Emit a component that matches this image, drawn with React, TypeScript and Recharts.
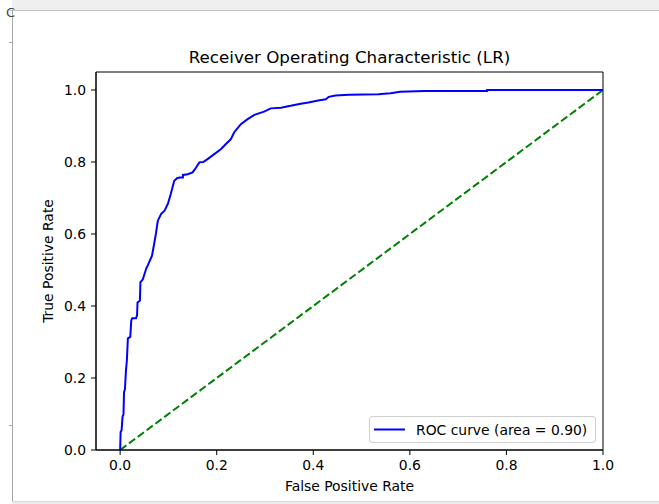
import React from "react";
import {
  LineChart,
  Line,
  XAxis,
  YAxis,
  Legend,
  ReferenceArea,
  Label,
} from "recharts";

const rocFpr = [
  0, 0.001, 0.003, 0.005, 0.007, 0.008, 0.01, 0.012, 0.014, 0.016, 0.021,
  0.023, 0.025, 0.033, 0.035, 0.036, 0.041, 0.042, 0.047, 0.054, 0.057, 0.066,
  0.071, 0.074, 0.078, 0.085, 0.092, 0.099, 0.105, 0.112, 0.118, 0.123, 0.13,
  0.13, 0.14, 0.15, 0.155, 0.164, 0.172, 0.181, 0.195, 0.209, 0.219, 0.229,
  0.236, 0.25, 0.264, 0.278, 0.298, 0.312, 0.333, 0.353, 0.374, 0.39, 0.41,
  0.426, 0.432, 0.446, 0.474, 0.535, 0.56, 0.58, 0.63, 0.76, 0.76, 1.0,
];
const rocTpr = [
  0, 0.05, 0.055, 0.092, 0.1, 0.16, 0.17, 0.22, 0.25, 0.31, 0.314, 0.36,
  0.366, 0.366, 0.374, 0.41, 0.415, 0.466, 0.474, 0.504, 0.512, 0.54, 0.577,
  0.6, 0.637, 0.656, 0.665, 0.684, 0.712, 0.748, 0.755, 0.757, 0.757, 0.764,
  0.766, 0.771, 0.78, 0.799, 0.8, 0.808, 0.822, 0.836, 0.85, 0.863, 0.882,
  0.905, 0.919, 0.931, 0.94, 0.949, 0.951, 0.956, 0.962, 0.965, 0.971, 0.974,
  0.981, 0.985, 0.987, 0.988, 0.991, 0.995, 0.997, 0.997, 1.0, 1.0,
];
const diagFpr = [0, 1];
const diagTpr = [0, 1];
const xTicks = [0, 0.2, 0.4, 0.6, 0.8, 1.0];
const yTicks = [0, 0.2, 0.4, 0.6, 0.8, 1.0];
const chartTitle = "Receiver Operating Characteristic (LR)";
const xLabel = "False Positive Rate";
const yLabel = "True Positive Rate";
const legendLabel = "ROC curve (area = 0.90)";

const rocData = rocFpr.map((f, i) => ({ fpr: f, tpr: rocTpr[i] }));
const diagData = diagFpr.map((f, i) => ({ fpr: f, tpr: diagTpr[i] }));

const FONT = "'DejaVu Sans', sans-serif";
const fmt = (v: number) => v.toFixed(1);

const LegendBox = () => (
  <div
    style={{
      width: 225,
      height: 25,
      border: "1px solid #d0d0d0",
      borderRadius: 3,
      background: "rgba(255,255,255,0.8)",
      display: "flex",
      alignItems: "center",
      fontFamily: FONT,
      fontSize: 13.9,
      color: "#000",
      boxSizing: "content-box",
    }}
  >
    <svg width={46} height={25} style={{ flex: "none" }}>
      <line x1={4} x2={35} y1={12.5} y2={12.5} stroke="#0000ff" strokeWidth={2} />
    </svg>
    <span style={{ whiteSpace: "nowrap" }}>{legendLabel}</span>
  </div>
);

export default function App() {
  return (
    <div
      style={{
        position: "absolute",
        left: 0,
        top: 0,
        width: 659,
        height: 504,
        background: "#fff",
        overflow: "hidden",
      }}
    >
      {/* screenshot frame */}
      <div style={{ position: "absolute", left: 12, top: 0, width: 647, height: 10, background: "#efefef" }} />
      <div style={{ position: "absolute", left: 10, top: 10, width: 649, height: 1, background: "#c4c4c4" }} />
      <div style={{ position: "absolute", left: 12, top: 10, width: 1, height: 492, background: "#a8a8a8" }} />
      <div style={{ position: "absolute", left: 9, top: 42, width: 3, height: 1, background: "#a8a8a8" }} />
      <div style={{ position: "absolute", left: 9, top: 425, width: 3, height: 1, background: "#a8a8a8" }} />
      <div style={{ position: "absolute", left: 12, top: 502, width: 647, height: 2, background: "#ececec" }} />
      <div style={{ position: "absolute", left: 12, top: 501, width: 647, height: 1, background: "#d8d8d8" }} />
      <div style={{ position: "absolute", left: 6, top: 5, fontFamily: FONT, fontSize: 13, color: "#444" }}>C</div>

      <div
        style={{
          position: "absolute",
          left: 96,
          width: 507,
          top: 46,
          textAlign: "center",
          fontFamily: FONT,
          fontSize: 16.7,
          lineHeight: "22px",
          color: "#000",
          whiteSpace: "nowrap",
        }}
      >
        {chartTitle}
      </div>

      <div style={{ position: "absolute", left: 0, top: 0 }}>
        <LineChart
          width={659}
          height={504}
          margin={{ top: 72, right: 56, bottom: 0, left: 0 }}
          style={{ fontFamily: FONT }}
        >
          <XAxis
            dataKey="fpr"
            type="number"
            domain={[-0.05, 1.0]}
            allowDataOverflow
            ticks={xTicks}
            tickFormatter={fmt}
            height={54}
            tickSize={5}
            tickMargin={5}
            axisLine={{ stroke: "#000", strokeWidth: 1 }}
            tickLine={{ stroke: "#000", strokeWidth: 1 }}
            tick={{ fill: "#000", fontSize: 13.9, fontFamily: FONT }}
            interval={0}
          >
            <Label
              value={xLabel}
              position="insideBottom"
              offset={13}
              style={{ fill: "#000", fontSize: 13.9, fontFamily: FONT }}
            />
          </XAxis>
          <YAxis
            type="number"
            domain={[0, 1.05]}
            allowDataOverflow
            ticks={yTicks}
            tickFormatter={fmt}
            width={96}
            tickSize={5}
            tickMargin={5}
            axisLine={{ stroke: "#000", strokeWidth: 1 }}
            tickLine={{ stroke: "#000", strokeWidth: 1 }}
            tick={{ fill: "#000", fontSize: 13.9, fontFamily: FONT }}
            interval={0}
          >
            <Label
              content={(props: any) => {
                const vb = props.viewBox || { x: 0, y: 72, width: 96, height: 378 };
                const cx = vb.x + 48;
                const cy = vb.y + vb.height / 2;
                return (
                  <text
                    x={cx}
                    y={cy}
                    transform={`rotate(-90 ${cx} ${cy})`}
                    textAnchor="middle"
                    dominantBaseline="central"
                    style={{ fill: "#000", fontSize: 13.9, fontFamily: FONT }}
                  >
                    {yLabel}
                  </text>
                );
              }}
            />
          </YAxis>
          <ReferenceArea
            x1={-0.05}
            x2={1.0}
            y1={0}
            y2={1.05}
            fill="none"
            stroke="#000"
            strokeWidth={1}
            ifOverflow="visible"
          />
          <Line
            data={diagData}
            dataKey="tpr"
            type="linear"
            stroke="#008000"
            strokeWidth={2}
            strokeDasharray="7.7 3.3"
            dot={false}
            activeDot={false}
            legendType="none"
            isAnimationActive={false}
          />
          <Line
            data={rocData}
            dataKey="tpr"
            name={legendLabel}
            type="linear"
            stroke="#0000ff"
            strokeWidth={2}
            dot={false}
            activeDot={false}
            isAnimationActive={false}
          />
          <Legend
            layout="horizontal"
            verticalAlign="middle"
            align="center"
            content={() => <LegendBox />}
            wrapperStyle={{ position: "absolute", left: 369, top: 416, width: 227, height: 27 }}
          />
        </LineChart>
      </div>
    </div>
  );
}
